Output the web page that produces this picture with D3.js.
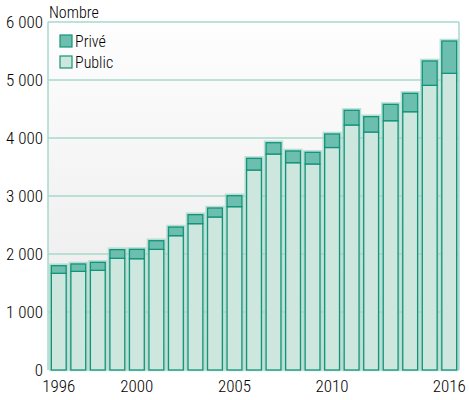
<!DOCTYPE html>
<html>
<head>
<meta charset="utf-8">
<script src="https://cdn.jsdelivr.net/npm/d3@7"></script>
<style>
  body { margin: 0; background: #fff; }
  svg text { font-family: "Roboto Condensed", "Liberation Sans Narrow", "Liberation Sans", sans-serif; font-weight: 300; fill: #000; }
</style>
</head>
<body>
<svg id="chart" width="469" height="400"></svg>
<script>
// -- DATA --
const years = d3.range(1996, 2017);
const publicVals = [1667, 1701, 1718, 1926, 1919, 2080, 2316, 2523, 2638, 2816,
    3448, 3724, 3574, 3552, 3836, 4224, 4103, 4298, 4453, 4908, 5115];
const totalVals = [1798, 1828, 1856, 2075, 2080, 2229, 2465, 2678, 2793, 3005,
    3649, 3919, 3776, 3753, 4069, 4477, 4368, 4580, 4770, 5328, 5672];
const yTicks = [0, 1000, 2000, 3000, 4000, 5000, 6000];
const xLabels = [1996, 2000, 2005, 2010, 2016];
const seriesNames = ["Privé", "Public"];

// -- LAYOUT --
const pLeft = 48, pRight = 459, pTop = 22, pBottom = 370;
const svg = d3.select("#chart");

const x = d3.scaleBand().domain(years).range([pLeft + 1, pRight]).paddingInner(0.24).paddingOuter(0.12);
const y = d3.scaleLinear().domain([0, 6000]).range([pBottom, pTop]);

const colPublic = "#cde7df", colPrive = "#6cbfae", colStroke = "#129479", colGrid = "#a6d9cc";

// fond dégradé
const defs = svg.append("defs");
const grad = defs.append("linearGradient").attr("id", "bg").attr("x1", 0).attr("y1", 0).attr("x2", 0).attr("y2", 1);
grad.append("stop").attr("offset", "0%").attr("stop-color", "#fefefe");
grad.append("stop").attr("offset", "100%").attr("stop-color", "#e9e9e9");

svg.append("rect")
    .attr("x", pLeft).attr("y", pTop)
    .attr("width", pRight - pLeft).attr("height", pBottom - pTop)
    .attr("fill", "url(#bg)");

// grille
svg.append("g")
    .selectAll("line")
    .data(yTicks.filter(d => d > 0))
    .enter().append("line")
    .attr("x1", pLeft).attr("x2", pRight)
    .attr("y1", d => y(d)).attr("y2", d => y(d))
    .attr("stroke", colGrid).attr("stroke-width", 1.5);

// cadre gauche / droite
svg.append("line").attr("x1", pLeft).attr("x2", pLeft).attr("y1", pTop).attr("y2", pBottom)
    .attr("stroke", colGrid).attr("stroke-width", 1.5);
svg.append("line").attr("x1", pRight).attr("x2", pRight).attr("y1", pTop).attr("y2", pBottom)
    .attr("stroke", colGrid).attr("stroke-width", 1.5);

// -- BARRES --
const bars = svg.append("g");
const bw = x.bandwidth();

// halo clair
bars.selectAll(".halo")
    .data(years)
    .enter().append("rect")
    .attr("x", d => x(d) - 1)
    .attr("y", (d, i) => y(totalVals[i]) - 1)
    .attr("width", bw + 2)
    .attr("height", (d, i) => pBottom - y(totalVals[i]) + 1)
    .attr("fill", "none")
    .attr("stroke", "#9fd5c8").attr("stroke-width", 2.5).attr("opacity", 0.7);

bars.selectAll(".pub")
    .data(years)
    .enter().append("rect")
    .attr("x", d => x(d))
    .attr("y", (d, i) => y(publicVals[i]))
    .attr("width", bw)
    .attr("height", (d, i) => pBottom - y(publicVals[i]))
    .attr("fill", colPublic)
    .attr("stroke", colStroke).attr("stroke-width", 1.3);

bars.selectAll(".priv")
    .data(years)
    .enter().append("rect")
    .attr("x", d => x(d))
    .attr("y", (d, i) => y(totalVals[i]))
    .attr("width", bw)
    .attr("height", (d, i) => y(publicVals[i]) - y(totalVals[i]))
    .attr("fill", colPrive)
    .attr("stroke", colStroke).attr("stroke-width", 1.3);

// -- AXES --
svg.append("g")
    .selectAll("text")
    .data(yTicks)
    .enter().append("text")
    .attr("x", 43)
    .attr("y", d => y(d) + 6)
    .attr("text-anchor", "end")
    .attr("font-size", 17)
    .text(d => d3.format(",")(d).replace(",", " "));

svg.append("g")
    .selectAll("text")
    .data(xLabels)
    .enter().append("text")
    .attr("x", d => x(d) + bw / 2)
    .attr("y", 392)
    .attr("text-anchor", "middle")
    .attr("font-size", 17)
    .text(d => d);

svg.append("text")
    .attr("x", 49).attr("y", 18)
    .attr("font-size", 16)
    .text("Nombre");

// -- LEGENDE --
const legend = svg.append("g")
    .selectAll("g")
    .data(seriesNames)
    .enter().append("g")
    .attr("transform", (d, i) => `translate(60, ${35 + i * 21})`);

legend.append("rect")
    .attr("width", 12).attr("height", 12)
    .attr("fill", (d, i) => i === 0 ? colPrive : colPublic)
    .attr("stroke", colStroke).attr("stroke-width", 1.2);

legend.append("text")
    .attr("x", 15).attr("y", 12)
    .attr("font-size", 16)
    .text(d => d);
</script>
</body>
</html>
